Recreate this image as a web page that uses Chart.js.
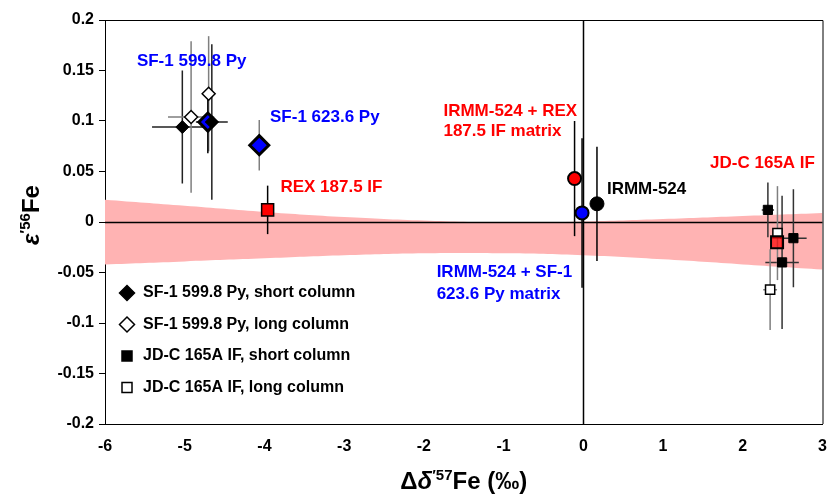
<!DOCTYPE html>
<html>
<head>
<meta charset="utf-8">
<script src="https://cdn.jsdelivr.net/npm/chart.js"></script>
<style>
    html, body { margin: 0; padding: 0; background: #fff; }
    #wrap { width: 835px; height: 494px; }
</style>
</head>
<body>
<div id="wrap"><canvas id="isoChart"></canvas></div>
<script>
// Datos (delta x en permil, epsilon y)
const sf1ShortX = [-5.03, -4.66];
const sf1ShortY = [0.094, 0.099];
const sf1ShortXErr = [0.38, 0.20];
const sf1ShortYErr = [0.056, 0.077];

const sf1LongX = [-4.92, -4.70];
const sf1LongY = [0.104, 0.127];
const sf1LongXErr = [0.29, 0.0];
const sf1LongYErr = [0.075, 0.057];

const sf1MeanX = [-4.71];
const sf1MeanY = [0.099];
const sf1MeanYErr = [0.031];

const sf1b623X = [-4.065];
const sf1b623Y = [0.076];
const sf1b623YErr = [0.025];

const rexX = [-3.96];
const rexY = [0.012];
const rexYErr = [0.024];

const irmmRexX = [-0.11];
const irmmRexY = [0.043];
const irmmRexYErr = [0.057];

const irmmSf1X = [-0.016];
const irmmSf1Y = [0.009];
const irmmSf1YErr = [0.074];

const irmmX = [0.171];
const irmmY = [0.018];
const irmmYErr = [0.0565];

const jdcShortX = [2.315, 2.635, 2.493];
const jdcShortY = [0.012, -0.016, -0.040];
const jdcShortXErr = [0.077, 0.166, 0.21];
const jdcShortYErr = [0.027, 0.0485, 0.066];

const jdcLongX = [2.435, 2.343];
const jdcLongY = [-0.011, -0.067];
const jdcLongXErr = [0.0, 0.087];
const jdcLongYErr = [0.0465, 0.04];

const jdcMeanX = [2.43];
const jdcMeanY = [-0.020];

// Banda rosa
const bandX = [-6, -5, -4, -3, -2, -1, 0, 1, 2, 3];
const bandUpper = [0.022, 0.016, 0.010, 0.005, 0.0015, -0.0005, 0.0005, 0.003, 0.006, 0.009];
const bandLower = [-0.042, -0.039, -0.036, -0.033, -0.031, -0.031, -0.033, -0.037, -0.042, -0.047];

// Ejes
const xTicks = [-6, -5, -4, -3, -2, -1, 0, 1, 2, 3];
const yTicks = [-0.2, -0.15, -0.1, -0.05, 0, 0.05, 0.1, 0.15, 0.2];

const FONT = 'Arial, "Liberation Sans", sans-serif';

function pts(xs, ys) {
    return xs.map((x, i) => ({ x: x, y: ys[i] }));
}

// Etiquetas dentro del grafico (coordenadas en unidades de datos)
const notas = [
    { text: 'SF-1 599.8 Py', x: -5.60, y: 0.159, color: '#0000ff' },
    { text: 'SF-1 623.6 Py', x: -3.93, y: 0.1035, color: '#0000ff' },
    { text: 'REX 187.5 IF', x: -3.80, y: 0.034, color: '#ff0000' },
    { text: 'IRMM-524 + REX', x: -1.755, y: 0.1097, color: '#ff0000' },
    { text: '187.5 IF matrix', x: -1.755, y: 0.0893, color: '#ff0000' },
    { text: 'IRMM-524', x: 0.296, y: 0.032, color: '#000000' },
    { text: 'IRMM-524 + SF-1', x: -1.84, y: -0.0503, color: '#0000ff' },
    { text: '623.6 Py matrix', x: -1.84, y: -0.0718, color: '#0000ff' },
    { text: 'JD-C 165A IF', x: 1.59, y: 0.058, color: '#ff0000' }
];

// Barras de error, lineas de cero y marco
const errorBarsPlugin = {
    id: 'errorBars',
    beforeDatasetsDraw(chart) {
        const ctx = chart.ctx;
        const xs = chart.scales.x, ys = chart.scales.y;
        const area = chart.chartArea;
        ctx.save();
        // lineas de cero
        ctx.strokeStyle = '#000';
        ctx.lineWidth = 1.5;
        ctx.beginPath();
        const y0 = Math.round(ys.getPixelForValue(0)) + 0.5;
        const x0 = Math.round(xs.getPixelForValue(0)) + 0.5;
        ctx.moveTo(area.left, y0); ctx.lineTo(area.right, y0);
        ctx.moveTo(x0, area.top); ctx.lineTo(x0, area.bottom);
        ctx.stroke();

        chart.data.datasets.forEach(ds => {
            if (!ds.errY) return;
            ctx.strokeStyle = ds.errColor || '#000';
            ctx.lineWidth = 1.5;
            ds.data.forEach((p, i) => {
                const px = xs.getPixelForValue(p.x);
                const py = ys.getPixelForValue(p.y);
                const ex = ds.errX ? ds.errX[i] : 0;
                const ey = ds.errY[i];
                ctx.beginPath();
                if (ey) {
                    ctx.moveTo(px, ys.getPixelForValue(p.y + ey));
                    ctx.lineTo(px, ys.getPixelForValue(p.y - ey));
                }
                if (ex) {
                    ctx.moveTo(xs.getPixelForValue(p.x - ex), py);
                    ctx.lineTo(xs.getPixelForValue(p.x + ex), py);
                }
                ctx.stroke();
            });
        });
        ctx.restore();
    },
    afterDraw(chart) {
        const ctx = chart.ctx;
        const a = chart.chartArea;
        ctx.save();
        ctx.strokeStyle = '#000';
        ctx.lineWidth = 1;
        ctx.beginPath();
        ctx.moveTo(a.left, a.top + 0.5); ctx.lineTo(a.right + 0.5, a.top + 0.5);
        ctx.lineTo(a.right + 0.5, a.bottom);
        ctx.stroke();
        ctx.restore();
    }
};

// Textos de anotacion
const notasPlugin = {
    id: 'notas',
    afterDatasetsDraw(chart) {
        const ctx = chart.ctx;
        const xs = chart.scales.x, ys = chart.scales.y;
        ctx.save();
        ctx.font = 'bold 17px ' + FONT;
        ctx.textAlign = 'left';
        ctx.textBaseline = 'middle';
        notas.forEach(n => {
            ctx.fillStyle = n.color;
            ctx.fillText(n.text, xs.getPixelForValue(n.x), ys.getPixelForValue(n.y));
        });
        ctx.restore();
    }
};

// Leyenda dentro del area del grafico
const leyendaItems = [
    { text: 'SF-1 599.8 Py, short column', shape: 'diamond', fill: '#000' },
    { text: 'SF-1 599.8 Py, long column', shape: 'diamond', fill: '#fff' },
    { text: 'JD-C 165A IF, short column', shape: 'square', fill: '#000' },
    { text: 'JD-C 165A IF, long column', shape: 'square', fill: '#fff' }
];

const leyendaPlugin = {
    id: 'leyenda',
    afterDraw(chart) {
        const ctx = chart.ctx;
        const left = 127, top = 293, step = 31.5;
        ctx.save();
        ctx.font = 'bold 16px ' + FONT;
        ctx.textBaseline = 'middle';
        ctx.textAlign = 'left';
        leyendaItems.forEach((it, i) => {
            const y = top + i * step;
            ctx.beginPath();
            if (it.shape === 'diamond') {
                ctx.moveTo(left, y - 7.5); ctx.lineTo(left + 7.5, y);
                ctx.lineTo(left, y + 7.5); ctx.lineTo(left - 7.5, y);
            } else {
                ctx.rect(left - 5, y - 5, 10, 10);
            }
            ctx.closePath();
            ctx.fillStyle = it.fill;
            ctx.fill();
            ctx.lineWidth = 1.5;
            ctx.strokeStyle = '#000';
            ctx.stroke();
            ctx.fillStyle = '#000';
            ctx.fillText(it.text, left + 16, y);
        });
        ctx.restore();
    }
};

// Titulos de ejes con superindices
function textoCompuesto(ctx, partes, cx, baseY) {
    let total = 0;
    partes.forEach(p => { ctx.font = p.font; p.w = ctx.measureText(p.text).width; total += p.w; });
    let x = cx - total / 2;
    partes.forEach(p => {
        ctx.font = p.font;
        ctx.fillText(p.text, x, baseY - (p.rise || 0));
        x += p.w;
    });
}

const titulosPlugin = {
    id: 'titulos',
    afterDraw(chart) {
        const ctx = chart.ctx;
        const a = chart.chartArea;
        ctx.save();
        ctx.fillStyle = '#000';
        ctx.textAlign = 'left';
        ctx.textBaseline = 'alphabetic';
        const big = 'bold 24px ' + FONT;
        const bigIt = 'italic bold 24px ' + FONT;
        const sup = 'bold 15px ' + FONT;
        textoCompuesto(ctx, [
            { text: '\u0394', font: big },
            { text: '\u03b4', font: bigIt },
            { text: '\u2032' + '57', font: sup, rise: 9 },
            { text: 'Fe (\u2030)', font: big }
        ], (a.left + a.right) / 2, 489);

        ctx.translate(30, 215);
        ctx.rotate(-Math.PI / 2);
        textoCompuesto(ctx, [
            { text: '\u03b5', font: bigIt },
            { text: '\u2032' + '56', font: sup, rise: 9 },
            { text: 'Fe', font: big }
        ], 0, 9);
        ctx.restore();
    }
};

const ctx = document.getElementById('isoChart').getContext('2d');

new Chart(ctx, {
    type: 'scatter',
    data: {
        datasets: [
            {
                label: 'SF-1 599.8 Py, short column',
                data: pts(sf1ShortX, sf1ShortY),
                errX: sf1ShortXErr, errY: sf1ShortYErr, errColor: '#222',
                pointStyle: 'rectRot', pointRadius: 6.5,
                backgroundColor: '#000', borderColor: '#000', borderWidth: 1,
                order: 1
            },
            {
                label: 'SF-1 599.8 Py, long column',
                data: pts(sf1LongX, sf1LongY),
                errX: sf1LongXErr, errY: sf1LongYErr, errColor: '#7f7f7f',
                pointStyle: 'rectRot', pointRadius: 6.5,
                backgroundColor: '#fff', borderColor: '#000', borderWidth: 1.5,
                order: 2
            },
            {
                label: 'SF-1 599.8 Py',
                data: pts(sf1MeanX, sf1MeanY),
                errY: sf1MeanYErr, errColor: '#000',
                pointStyle: 'rectRot', pointRadius: 9,
                backgroundColor: '#0000ff', borderColor: '#000', borderWidth: 3,
                order: 3
            },
            {
                label: 'SF-1 623.6 Py',
                data: pts(sf1b623X, sf1b623Y),
                errY: sf1b623YErr, errColor: '#7f7f7f',
                pointStyle: 'rectRot', pointRadius: 9.5,
                backgroundColor: '#0000ff', borderColor: '#000', borderWidth: 3,
                order: 1
            },
            {
                label: 'REX 187.5 IF',
                data: pts(rexX, rexY),
                errY: rexYErr, errColor: '#000',
                pointStyle: 'rect', pointRadius: 8.5,
                backgroundColor: '#ff0000', borderColor: '#000', borderWidth: 1.5,
                order: 1
            },
            {
                label: 'IRMM-524 + REX 187.5 IF matrix',
                data: pts(irmmRexX, irmmRexY),
                errY: irmmRexYErr, errColor: '#000',
                pointStyle: 'circle', pointRadius: 6.5,
                backgroundColor: '#ff0000', borderColor: '#000', borderWidth: 2,
                order: 2
            },
            {
                label: 'IRMM-524 + SF-1 623.6 Py matrix',
                data: pts(irmmSf1X, irmmSf1Y),
                errY: irmmSf1YErr, errColor: '#000',
                pointStyle: 'circle', pointRadius: 6.5,
                backgroundColor: '#0000ff', borderColor: '#000', borderWidth: 2,
                order: 1
            },
            {
                label: 'IRMM-524',
                data: pts(irmmX, irmmY),
                errY: irmmYErr, errColor: '#000',
                pointStyle: 'circle', pointRadius: 7,
                backgroundColor: '#000', borderColor: '#000', borderWidth: 1,
                order: 2
            },
            {
                label: 'JD-C 165A IF, short column',
                data: pts(jdcShortX, jdcShortY),
                errX: jdcShortXErr, errY: jdcShortYErr, errColor: '#333',
                pointStyle: 'rect', pointRadius: 6.5,
                backgroundColor: '#000', borderColor: '#000', borderWidth: 1,
                order: 2
            },
            {
                label: 'JD-C 165A IF, long column',
                data: pts(jdcLongX, jdcLongY),
                errX: jdcLongXErr, errY: jdcLongYErr, errColor: '#7f7f7f',
                pointStyle: 'rect', pointRadius: 6.5,
                backgroundColor: '#fff', borderColor: '#000', borderWidth: 1.5,
                order: 2
            },
            {
                label: 'JD-C 165A IF',
                data: pts(jdcMeanX, jdcMeanY),
                pointStyle: 'rect', pointRadius: 8.5,
                backgroundColor: 'rgba(255,0,0,0.7)', borderColor: '#000', borderWidth: 2,
                order: 1
            },
            {
                label: 'banda superior',
                type: 'line',
                data: pts(bandX, bandUpper),
                showLine: true, pointRadius: 0, borderWidth: 0,
                borderColor: 'rgba(0,0,0,0)',
                backgroundColor: '#ffb3b3',
                fill: '+1', tension: 0.4,
                order: 10
            },
            {
                label: 'banda inferior',
                type: 'line',
                data: pts(bandX, bandLower),
                showLine: true, pointRadius: 0, borderWidth: 0,
                borderColor: 'rgba(0,0,0,0)',
                fill: false, tension: 0.4,
                order: 11
            }
        ]
    },
    options: {
        responsive: true,
        maintainAspectRatio: false,
        animation: false,
        layout: { padding: { top: 20, right: 9, left: 0, bottom: 0 } },
        plugins: {
            legend: { display: false },
            tooltip: { enabled: false },
            filler: { drawTime: 'beforeDatasetsDraw' }
        },
        scales: {
            x: {
                type: 'linear',
                min: -6, max: 3,
                afterBuildTicks: s => { s.ticks = xTicks.map(v => ({ value: v })); },
                afterFit: s => {
                    s.height = 70;
                    s.paddingLeft = 0;
                    s.paddingRight = 0;
                },
                ticks: {
                    color: '#000',
                    font: { family: FONT, size: 16, weight: 'bold' },
                    padding: 13,
                    maxRotation: 0,
                    callback: v => String(v)
                },
                grid: { display: false, drawTicks: false },
                border: { display: true, color: '#000', width: 1 }
            },
            y: {
                type: 'linear',
                min: -0.2, max: 0.2,
                afterBuildTicks: s => { s.ticks = yTicks.map(v => ({ value: v })); },
                afterFit: s => { s.width = 105; },
                ticks: {
                    color: '#000',
                    font: { family: FONT, size: 16, weight: 'bold' },
                    padding: 5,
                    callback: v => String(+v.toFixed(2))
                },
                grid: {
                    display: true,
                    drawOnChartArea: false,
                    drawTicks: true,
                    tickLength: 6,
                    tickColor: '#000'
                },
                border: { display: true, color: '#000', width: 1 }
            }
        }
    },
    plugins: [errorBarsPlugin, notasPlugin, leyendaPlugin, titulosPlugin]
});
</script>
</body>
</html>
